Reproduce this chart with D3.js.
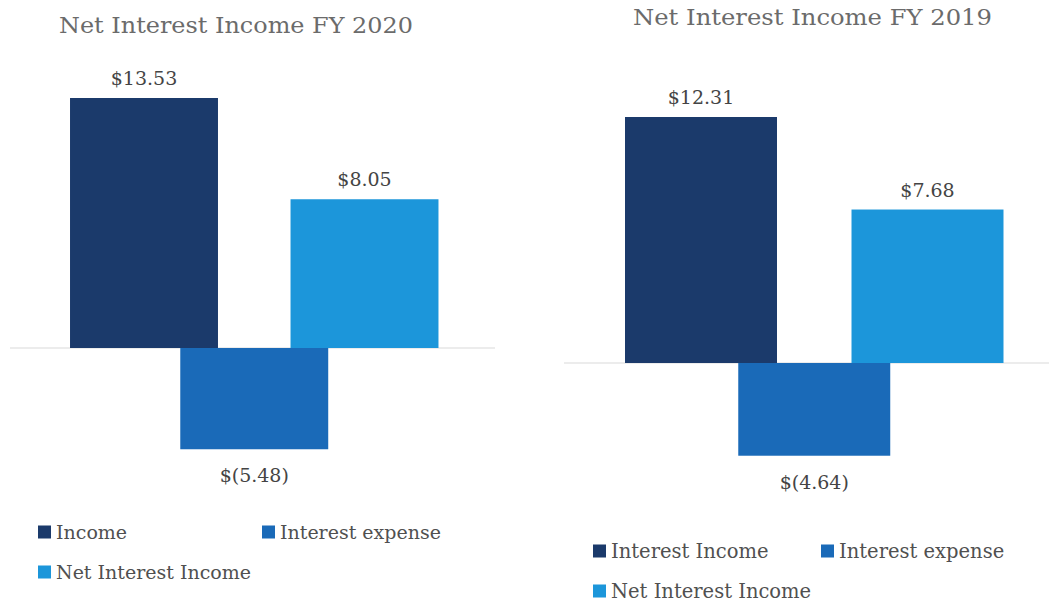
<!DOCTYPE html>
<html>
<head>
<meta charset="utf-8">
<script src="https://cdn.jsdelivr.net/npm/d3@7"></script>
<style>
  html, body { margin: 0; padding: 0; background: #ffffff; }
  svg { display: block; }
</style>
</head>
<body>
<svg id="chart" width="1062" height="604"></svg>
<script>
// ---- Data ----
const categories2020 = ["Income", "Interest expense", "Net Interest Income"];
const values2020 = [13.53, -5.48, 8.05];
const title2020 = "Net Interest Income FY 2020";

const categories2019 = ["Interest Income", "Interest expense", "Net Interest Income"];
const values2019 = [12.31, -4.64, 7.68];
const title2019 = "Net Interest Income FY 2019";

const seriesColors = ["#1b3a6b", "#1a6ab8", "#1c96da"];

// ---- Layout ----
const svg = d3.select("#chart");
const FONT = "'DejaVu Serif', 'Liberation Serif', serif";

function fmt(v) {
  return v >= 0 ? "$" + v.toFixed(2) : "$(" + Math.abs(v).toFixed(2) + ")";
}

function drawPanel(cfg) {
  const g = svg.append("g");
  const x = d3.scalePoint().domain(cfg.categories).range(cfg.xRange);
  const barW = x.step() * 1.342;
  const y = d3.scaleLinear().domain([0, cfg.values[0]]).range([cfg.zeroY, cfg.topY]);

  // title
  g.append("text")
    .attr("x", cfg.titleX).attr("y", cfg.titleY)
    .attr("text-anchor", "middle")
    .attr("font-family", FONT).attr("font-size", 22)
    .attr("fill", "#6b6b6b")
    .attr("textLength", cfg.titleW).attr("lengthAdjust", "spacingAndGlyphs")
    .text(cfg.title);

  // zero line
  g.append("line")
    .attr("x1", cfg.lineX[0]).attr("x2", cfg.lineX[1])
    .attr("y1", y(0)).attr("y2", y(0))
    .attr("stroke", "#d9d9d9").attr("stroke-width", 1);

  const data = cfg.categories.map((c, i) => ({ c, v: cfg.values[i], color: seriesColors[i] }));

  g.selectAll("rect.bar").data(data).enter().append("rect")
    .attr("class", "bar")
    .attr("x", d => x(d.c) - barW / 2)
    .attr("width", barW)
    .attr("y", d => Math.min(y(d.v), y(0)))
    .attr("height", d => Math.abs(y(d.v) - y(0)))
    .attr("fill", d => d.color);

  g.selectAll("text.val").data(data).enter().append("text")
    .attr("class", "val")
    .attr("x", d => x(d.c))
    .attr("y", d => d.v >= 0 ? y(d.v) - 13 : y(d.v) + 33)
    .attr("text-anchor", "middle")
    .attr("font-family", FONT).attr("font-size", cfg.valSize)
    .attr("fill", "#444444")
    .text(d => fmt(d.v));

  // legend
  const leg = g.selectAll("g.leg").data(data).enter().append("g")
    .attr("class", "leg")
    .attr("transform", (d, i) => `translate(${cfg.legX[i % 2]},${cfg.legY[Math.floor(i / 2)]})`);
  leg.append("rect")
    .attr("x", 0).attr("y", -6.5).attr("width", 13).attr("height", 13)
    .attr("fill", d => d.color);
  leg.append("text")
    .attr("x", 18).attr("y", 0).attr("dy", "0.35em")
    .attr("font-family", FONT).attr("font-size", cfg.legSize)
    .attr("fill", "#505050")
    .text(d => d.c);
}

drawPanel({
  title: title2020, categories: categories2020, values: values2020,
  titleX: 236, titleY: 33, titleW: 354,
  xRange: [144, 364.5], zeroY: 348, topY: 98,
  lineX: [10, 495], valSize: 19, legSize: 19,
  legX: [38, 262], legY: [532, 572]
});

drawPanel({
  title: title2019, categories: categories2019, values: values2019,
  titleX: 812.5, titleY: 25, titleW: 359,
  xRange: [701, 927.5], zeroY: 363, topY: 117,
  lineX: [564, 1049], valSize: 19, legSize: 19.5,
  legX: [593, 821], legY: [551, 591]
});
</script>
</body>
</html>
